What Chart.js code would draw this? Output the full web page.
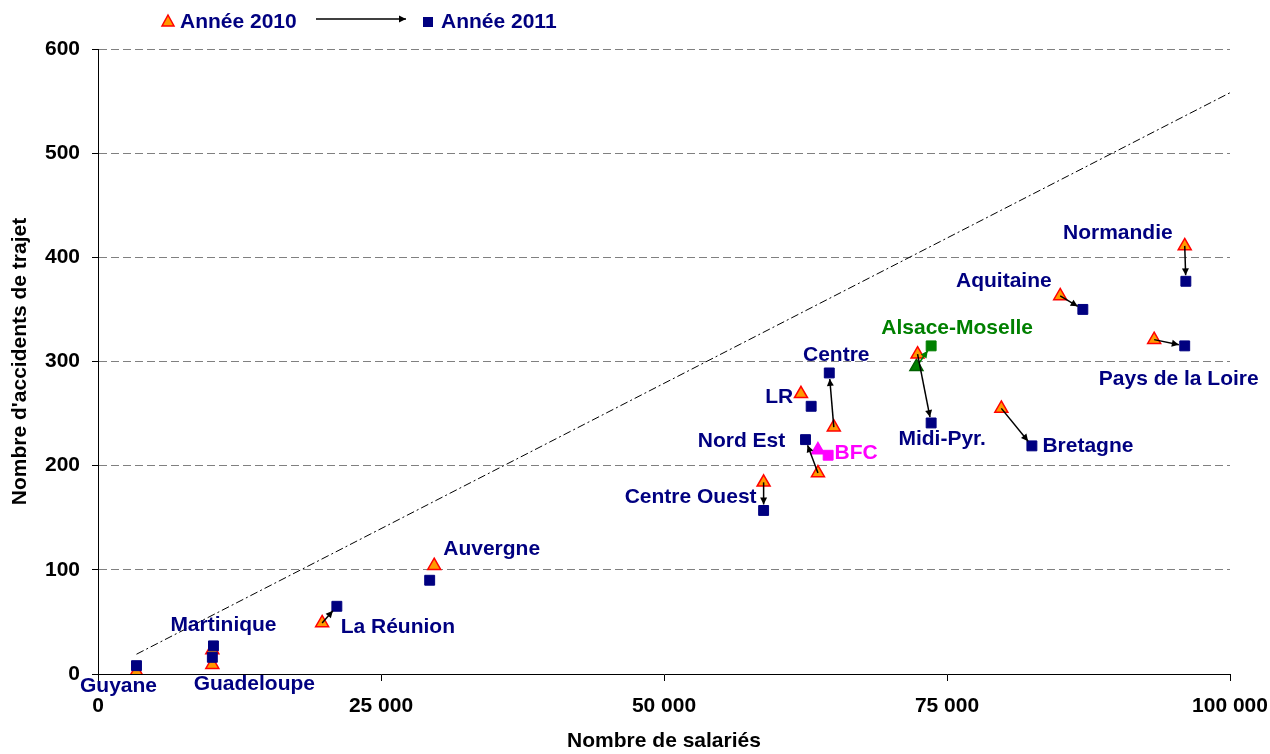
<!DOCTYPE html>
<html>
<head>
<meta charset="utf-8">
<script src="https://cdn.jsdelivr.net/npm/chart.js@4.4.1/dist/chart.umd.min.js"></script>
<style>
  html, body { margin: 0; padding: 0; background: #fff; }
  #wrap { width: 1270px; height: 754px; }
</style>
</head>
<body>
<div id="wrap"><canvas id="chart"></canvas></div>
<script>
// Régions et valeurs
const regions = ['Guyane', 'Guadeloupe', 'Martinique', 'La Réunion', 'Auvergne', 'Centre Ouest', 'Nord Est', 'BFC',
  'LR', 'Centre', 'Alsace-Moselle', 'Midi-Pyr.', 'Bretagne', 'Aquitaine', 'Pays de la Loire', 'Normandie']
const salaries2010 = [3400, 10100, 10100, 19800, 29700, 58800, 63600, 63600, 62100, 65000, 72300, 72400, 79800, 85000, 93300, 96000]
const accidents2010 = [2, 9, 23, 49, 104, 184, 193, 215, 269, 237, 295, 307, 255, 363, 321, 411]
const salaries2011 = [3400, 10100, 10200, 21100, 29300, 58800, 62500, 64500, 63000, 64600, 73600, 73600, 82500, 87000, 96000, 96100]
const accidents2011 = [8, 16, 27, 65, 90, 157, 225, 210, 257, 289, 315, 241, 219, 350, 315, 377]
const hasArrow = [false, false, false, true, false, true, true, false, false, true, true, true, true, true, true, true]

// droite de référence (tiret-point)
const trendX = [3400, 100000]
const trendY = [19, 558]

const xTicks = [0, 25000, 50000, 75000, 100000]
const yTicks = [0, 100, 200, 300, 400, 500, 600]

// placement des étiquettes (décalage en pixels par rapport au carré 2011)
const labelOffsets = [[-18, 21], [42, 27], [10, -21], [61, 21], [62, -31], [-73, -13], [-64, 2], [28, -2],
  [-32, -9], [7, -18], [26, -18], [11, 16], [56, 0], [-79, -28], [-6, 33], [-68, -48]]

const NAVY = '#000080'
const FONT = '"Liberation Sans", Arial, sans-serif'
const FS = 21

const regionColor = (name) => {
  if (name === 'BFC') return '#FF00FF'
  if (name === 'Alsace-Moselle') return '#008000'
  return NAVY
}
const triFill = regions.map(r => r === 'BFC' ? '#FF00FF' : r === 'Alsace-Moselle' ? '#008000' : '#FF9900')
const triBorder = regions.map(r => r === 'BFC' ? '#FF00FF' : r === 'Alsace-Moselle' ? '#006000' : '#FF0000')
const sqFill = regions.map(r => regionColor(r))

function drawArrow(ctx, x1, y1, x2, y2, color, shorten) {
  const ang = Math.atan2(y2 - y1, x2 - x1)
  const ex = x2 - Math.cos(ang) * shorten
  const ey = y2 - Math.sin(ang) * shorten
  ctx.save()
  ctx.strokeStyle = color
  ctx.fillStyle = color
  ctx.lineWidth = 1.5
  ctx.beginPath()
  ctx.moveTo(x1, y1)
  ctx.lineTo(ex, ey)
  ctx.stroke()
  const hl = 7, hw = 3.5
  ctx.beginPath()
  ctx.moveTo(ex, ey)
  ctx.lineTo(ex - Math.cos(ang) * hl - Math.sin(ang) * hw, ey - Math.sin(ang) * hl + Math.cos(ang) * hw)
  ctx.lineTo(ex - Math.cos(ang) * hl + Math.sin(ang) * hw, ey - Math.sin(ang) * hl - Math.cos(ang) * hw)
  ctx.closePath()
  ctx.fill()
  ctx.restore()
}

const annotations = {
  id: 'annotations',
  afterDatasetsDraw(chart) {
    const { ctx, scales: { x, y } } = chart
    // flèches 2010 -> 2011
    regions.forEach((r, i) => {
      if (!hasArrow[i]) return
      const x1 = x.getPixelForValue(salaries2010[i]), y1 = y.getPixelForValue(accidents2010[i])
      const x2 = x.getPixelForValue(salaries2011[i]), y2 = y.getPixelForValue(accidents2011[i])
      drawArrow(ctx, x1, y1, x2, y2, r === 'Alsace-Moselle' ? '#008000' : '#000', 6)
    })
    // étiquettes
    ctx.save()
    ctx.font = 'bold ' + FS + 'px ' + FONT
    ctx.textAlign = 'center'
    ctx.textBaseline = 'middle'
    regions.forEach((r, i) => {
      const px = x.getPixelForValue(salaries2011[i]) + labelOffsets[i][0]
      const py = y.getPixelForValue(accidents2011[i]) + labelOffsets[i][1]
      ctx.fillStyle = regionColor(r)
      ctx.fillText(r, px, py)
    })
    ctx.restore()
  },
  afterDraw(chart) {
    const { ctx } = chart
    // légende en haut
    ctx.save()
    ctx.font = 'bold ' + FS + 'px ' + FONT
    ctx.textBaseline = 'middle'
    ctx.textAlign = 'left'
    ctx.fillStyle = '#FF9900'
    ctx.strokeStyle = '#FF0000'
    ctx.lineWidth = 1.5
    ctx.beginPath()
    ctx.moveTo(168, 15)
    ctx.lineTo(174, 26)
    ctx.lineTo(162, 26)
    ctx.closePath()
    ctx.fill()
    ctx.stroke()
    ctx.fillStyle = NAVY
    ctx.fillText('Année 2010', 180, 22)
    ctx.restore()
    drawArrow(ctx, 316, 19, 406, 19, '#000', 0)
    ctx.save()
    ctx.fillStyle = NAVY
    ctx.fillRect(423, 17, 10, 10)
    ctx.font = 'bold ' + FS + 'px ' + FONT
    ctx.textBaseline = 'middle'
    ctx.fillText('Année 2011', 441, 22)
    ctx.restore()
  }
}

new Chart(document.getElementById('chart'), {
  type: 'scatter',
  data: {
    datasets: [
      {
        label: 'Année 2011',
        data: salaries2011.map((v, i) => ({ x: v, y: accidents2011[i] })),
        pointStyle: 'rect',
        pointRadius: 7,
        pointBackgroundColor: sqFill,
        pointBorderColor: sqFill,
        pointBorderWidth: 1,
        order: 0
      },
      {
        label: 'Année 2010',
        data: salaries2010.map((v, i) => ({ x: v, y: accidents2010[i] })),
        pointStyle: 'triangle',
        pointRadius: 7.5,
        pointBackgroundColor: triFill,
        pointBorderColor: triBorder,
        pointBorderWidth: 1.5,
        order: 1
      },
      {
        label: 'tendance',
        type: 'line',
        data: trendX.map((v, i) => ({ x: v, y: trendY[i] })),
        borderColor: '#000',
        borderWidth: 1,
        borderDash: [8, 3, 2, 3],
        pointRadius: 0,
        fill: false,
        order: 2
      }
    ]
  },
  options: {
    responsive: true,
    maintainAspectRatio: false,
    animation: false,
    layout: { padding: { top: 49, right: 40, left: 0, bottom: 0 } },
    plugins: {
      legend: { display: false },
      tooltip: { enabled: false }
    },
    scales: {
      x: {
        type: 'linear',
        min: 0,
        max: 100000,
        afterBuildTicks: (scale) => { scale.ticks = xTicks.map(v => ({ value: v })) },
        afterFit: (scale) => {
          scale.height = 80
          scale.paddingLeft = 0
          scale.paddingRight = 0
        },
        border: { display: true, color: '#000', width: 1 },
        grid: { drawOnChartArea: false, drawTicks: true, tickLength: 7, tickColor: '#000' },
        ticks: {
          color: '#000',
          padding: 13,
          maxRotation: 0,
          font: { family: FONT, size: FS, weight: 'bold' },
          callback: (v) => v === 0 ? '0' : v.toLocaleString('fr-FR').replace(/\s/g, ' ')
        },
        title: {
          display: true,
          text: 'Nombre de salariés',
          color: '#000',
          padding: { top: 0, bottom: 0 },
          font: { family: FONT, size: FS, weight: 'bold' }
        }
      },
      y: {
        type: 'linear',
        min: 0,
        max: 600,
        afterBuildTicks: (scale) => { scale.ticks = yTicks.map(v => ({ value: v })) },
        afterFit: (scale) => {
          scale.width = 98
          scale.paddingTop = 0
          scale.paddingBottom = 0
        },
        border: { display: true, color: '#000', width: 1, dash: [8, 4] },
        grid: {
          color: (c) => c.tick && c.tick.value === 0 ? 'rgba(0,0,0,0)' : '#808080',
          tickColor: '#000',
          tickLength: 6,
          tickBorderDash: []
        },
        ticks: {
          color: '#000',
          padding: 12,
          font: { family: FONT, size: FS, weight: 'bold' }
        },
        title: {
          display: true,
          text: "Nombre d'accidents de trajet",
          color: '#000',
          padding: { top: 8, bottom: 0 },
          font: { family: FONT, size: FS, weight: 'bold' }
        }
      }
    }
  },
  plugins: [annotations]
})
</script>
</body>
</html>
